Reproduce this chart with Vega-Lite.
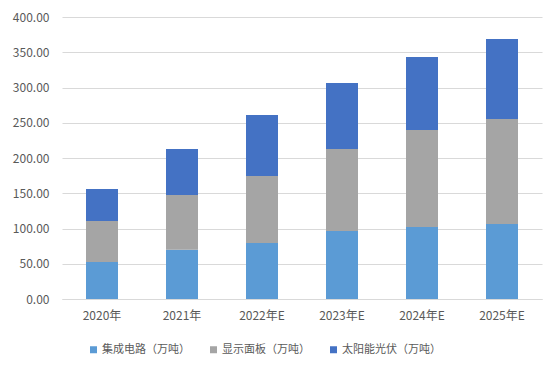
{
  "$schema": "https://vega.github.io/schema/vega-lite/v6.json",
  "width": 480,
  "height": 282,
  "autosize": {"type": "none"},
  "padding": {"left": 62, "top": 17, "right": 17, "bottom": 73},
  "background": "white",
  "config": {
    "view": {"stroke": null},
    "font": "Noto Sans CJK SC",
    "axis": {"labelFont": "Noto Sans CJK SC", "labelColor": "#595959", "labelFontSize": 12},
    "legend": {"labelFont": "Noto Sans CJK SC", "labelColor": "#595959", "labelFontSize": 11}
  },
  "data": {
    "values": [
      {"year": "2020年", "series": "集成电路（万吨）", "k": 1, "value": 52.5},
      {"year": "2020年", "series": "显示面板（万吨）", "k": 2, "value": 58.1},
      {"year": "2020年", "series": "太阳能光伏（万吨）", "k": 3, "value": 45.4},
      {"year": "2021年", "series": "集成电路（万吨）", "k": 1, "value": 70.0},
      {"year": "2021年", "series": "显示面板（万吨）", "k": 2, "value": 77.5},
      {"year": "2021年", "series": "太阳能光伏（万吨）", "k": 3, "value": 65.3},
      {"year": "2022年E", "series": "集成电路（万吨）", "k": 1, "value": 79.4},
      {"year": "2022年E", "series": "显示面板（万吨）", "k": 2, "value": 95.1},
      {"year": "2022年E", "series": "太阳能光伏（万吨）", "k": 3, "value": 86.5},
      {"year": "2023年E", "series": "集成电路（万吨）", "k": 1, "value": 96.5},
      {"year": "2023年E", "series": "显示面板（万吨）", "k": 2, "value": 116.3},
      {"year": "2023年E", "series": "太阳能光伏（万吨）", "k": 3, "value": 93.6},
      {"year": "2024年E", "series": "集成电路（万吨）", "k": 1, "value": 102.1},
      {"year": "2024年E", "series": "显示面板（万吨）", "k": 2, "value": 137.6},
      {"year": "2024年E", "series": "太阳能光伏（万吨）", "k": 3, "value": 103.6},
      {"year": "2025年E", "series": "集成电路（万吨）", "k": 1, "value": 106.4},
      {"year": "2025年E", "series": "显示面板（万吨）", "k": 2, "value": 148.9},
      {"year": "2025年E", "series": "太阳能光伏（万吨）", "k": 3, "value": 113.5}
    ]
  },
  "mark": {"type": "bar"},
  "encoding": {
    "x": {
      "field": "year", "type": "nominal", "sort": null, "title": null,
      "scale": {"paddingInner": 0.6, "paddingOuter": 0.3},
      "axis": {"labelAngle": 0, "ticks": false, "labelPadding": 11, "domainColor": "#D9D9D9", "domainWidth": 1, "grid": false}
    },
    "y": {
      "field": "value", "type": "quantitative", "stack": "zero", "title": null,
      "scale": {"domain": [0, 400], "nice": false},
      "axis": {"values": [0, 50, 100, 150, 200, 250, 300, 350, 400], "format": ".2f", "ticks": false, "domain": false, "labelPadding": 13, "gridColor": "#D9D9D9", "gridWidth": 1}
    },
    "color": {
      "field": "series", "type": "nominal", "title": null,
      "scale": {
        "domain": ["集成电路（万吨）", "显示面板（万吨）", "太阳能光伏（万吨）"],
        "range": ["#5B9BD5", "#A5A5A5", "#4472C4"]
      },
      "legend": {
        "orient": "none", "direction": "horizontal", "legendX": 26, "legendY": 327,
        "symbolType": "square", "symbolSize": 49, "symbolStrokeWidth": 0,
        "columnPadding": 18, "labelOffset": 3
      }
    },
    "order": {"field": "k", "type": "quantitative", "sort": "ascending"}
  }
}
